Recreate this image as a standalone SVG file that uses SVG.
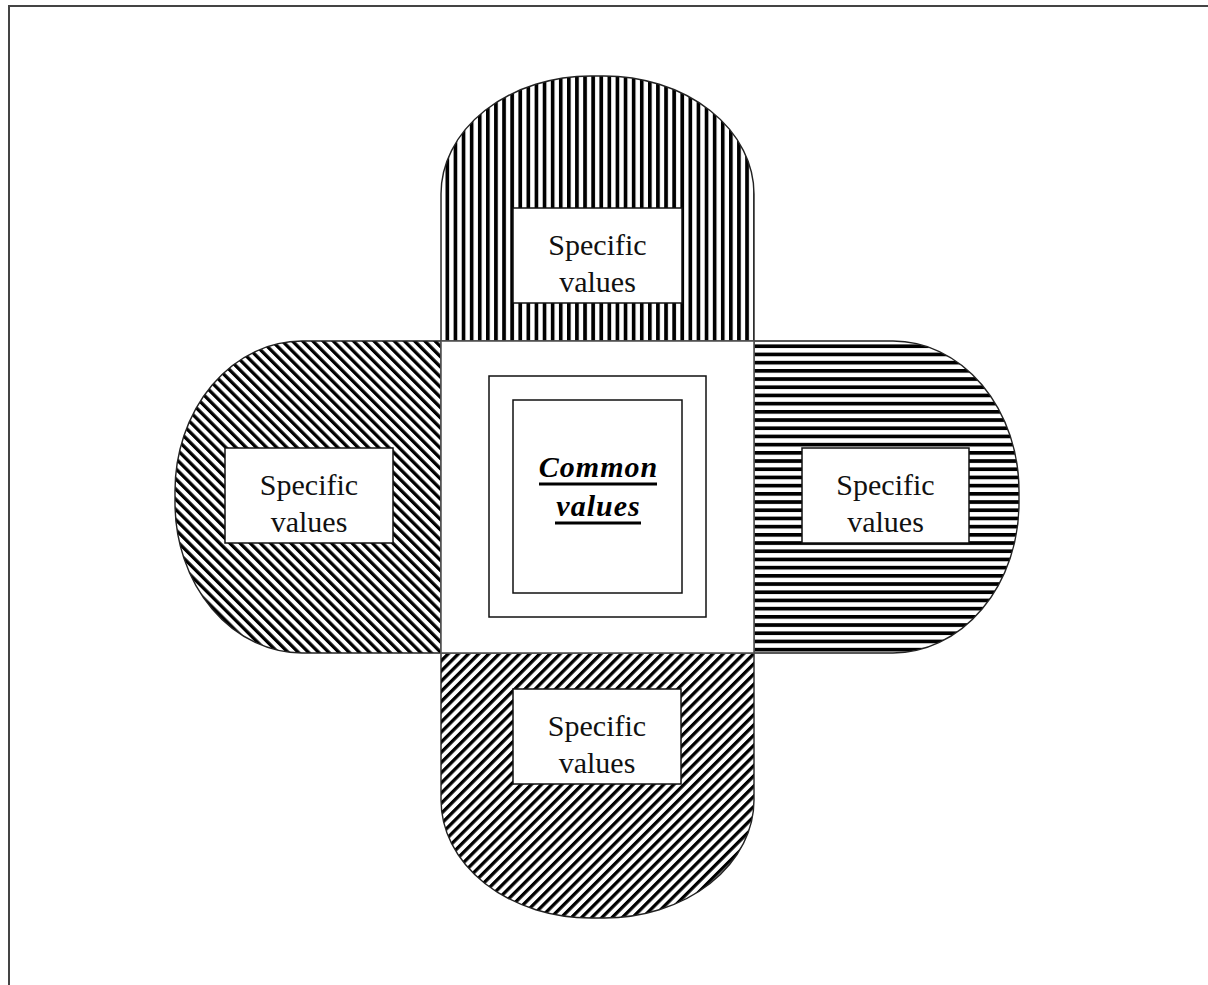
<svg xmlns="http://www.w3.org/2000/svg" width="1208" height="985" viewBox="0 0 1208 985">
  <defs>
    <pattern id="hv" width="8.1" height="8" patternUnits="userSpaceOnUse"><rect x="0" y="0" width="3.7" height="8" fill="#000"/></pattern>
    <pattern id="hh" width="8" height="8.2" patternUnits="userSpaceOnUse"><rect x="0" y="0" width="8" height="3.7" fill="#000"/></pattern>
    <pattern id="hbs" width="7.2" height="8" patternUnits="userSpaceOnUse" patternTransform="rotate(-45)"><rect x="0" y="0" width="3.3" height="8" fill="#000"/></pattern>
    <pattern id="hfs" width="7.2" height="8" patternUnits="userSpaceOnUse" patternTransform="rotate(45)"><rect x="0" y="0" width="3.3" height="8" fill="#000"/></pattern>
    <style>
      .lobe { stroke: #222; stroke-width: 1.4; }
      .box { fill: #fff; stroke: #111; stroke-width: 1.5; }
      .core { fill: #fff; stroke: #555; stroke-width: 1.6; }
      .frame { fill: none; stroke: #111; stroke-width: 1.5; }
      .lbl { font-family: "Liberation Serif", "Times New Roman", serif; font-size: 30px; fill: #111; text-anchor: middle; }
      .common { font-family: "Liberation Serif", "Times New Roman", serif; font-size: 30px; font-weight: bold; font-style: italic; letter-spacing: 1px; fill: #000; text-anchor: middle; }
      .ul { stroke: #000; stroke-width: 3; }
    </style>
  </defs>
  <rect x="0" y="0" width="1208" height="985" fill="#fff"/>
  <g id="page-border">
    <path d="M9,985 V6 H1208" fill="none" stroke="#444" stroke-width="2"/>
  </g>

  <g id="lobe-top">
    <path class="lobe" fill="url(#hv)" d="M441,341 V194 A150,118 0 0 1 591,76 H604 A150,118 0 0 1 754,194 V341 Z"/>
    <rect class="box" x="513" y="208" width="169" height="95"/>
    <text class="lbl" x="597.5" y="255">Specific</text>
    <text class="lbl" x="597.5" y="292">values</text>
  </g>

  <g id="lobe-left">
    <path class="lobe" fill="url(#hbs)" d="M441,341 H302 A127,150 0 0 0 175,491 V503 A127,150 0 0 0 302,653 H441 Z"/>
    <rect class="box" x="225" y="448" width="168" height="95"/>
    <text class="lbl" x="309" y="495">Specific</text>
    <text class="lbl" x="309" y="532">values</text>
  </g>

  <g id="lobe-right">
    <path class="lobe" fill="url(#hh)" d="M754,341 H893 A126,150 0 0 1 1019,491 V503 A126,150 0 0 1 893,653 H754 Z"/>
    <rect class="box" x="802" y="448" width="167" height="95"/>
    <text class="lbl" x="885.5" y="495">Specific</text>
    <text class="lbl" x="885.5" y="532">values</text>
  </g>

  <g id="lobe-bottom">
    <path class="lobe" fill="url(#hfs)" d="M441,653 V800 A150,118 0 0 0 591,918 H604 A150,118 0 0 0 754,800 V653 Z"/>
    <rect class="box" x="513" y="689" width="168" height="95"/>
    <text class="lbl" x="597" y="736">Specific</text>
    <text class="lbl" x="597" y="773">values</text>
  </g>

  <g id="core">
    <rect class="core" x="441" y="341" width="313" height="312"/>
    <rect class="frame" x="489" y="376" width="217" height="241"/>
    <rect class="frame" x="513" y="400" width="169" height="193"/>
    <text class="common" x="598.5" y="477">Common</text>
    <line class="ul" x1="539" y1="484" x2="657" y2="484"/>
    <text class="common" x="598.5" y="516">values</text>
    <line class="ul" x1="555" y1="523" x2="641" y2="523"/>
  </g>

  <g id="connectors"/>
</svg>
